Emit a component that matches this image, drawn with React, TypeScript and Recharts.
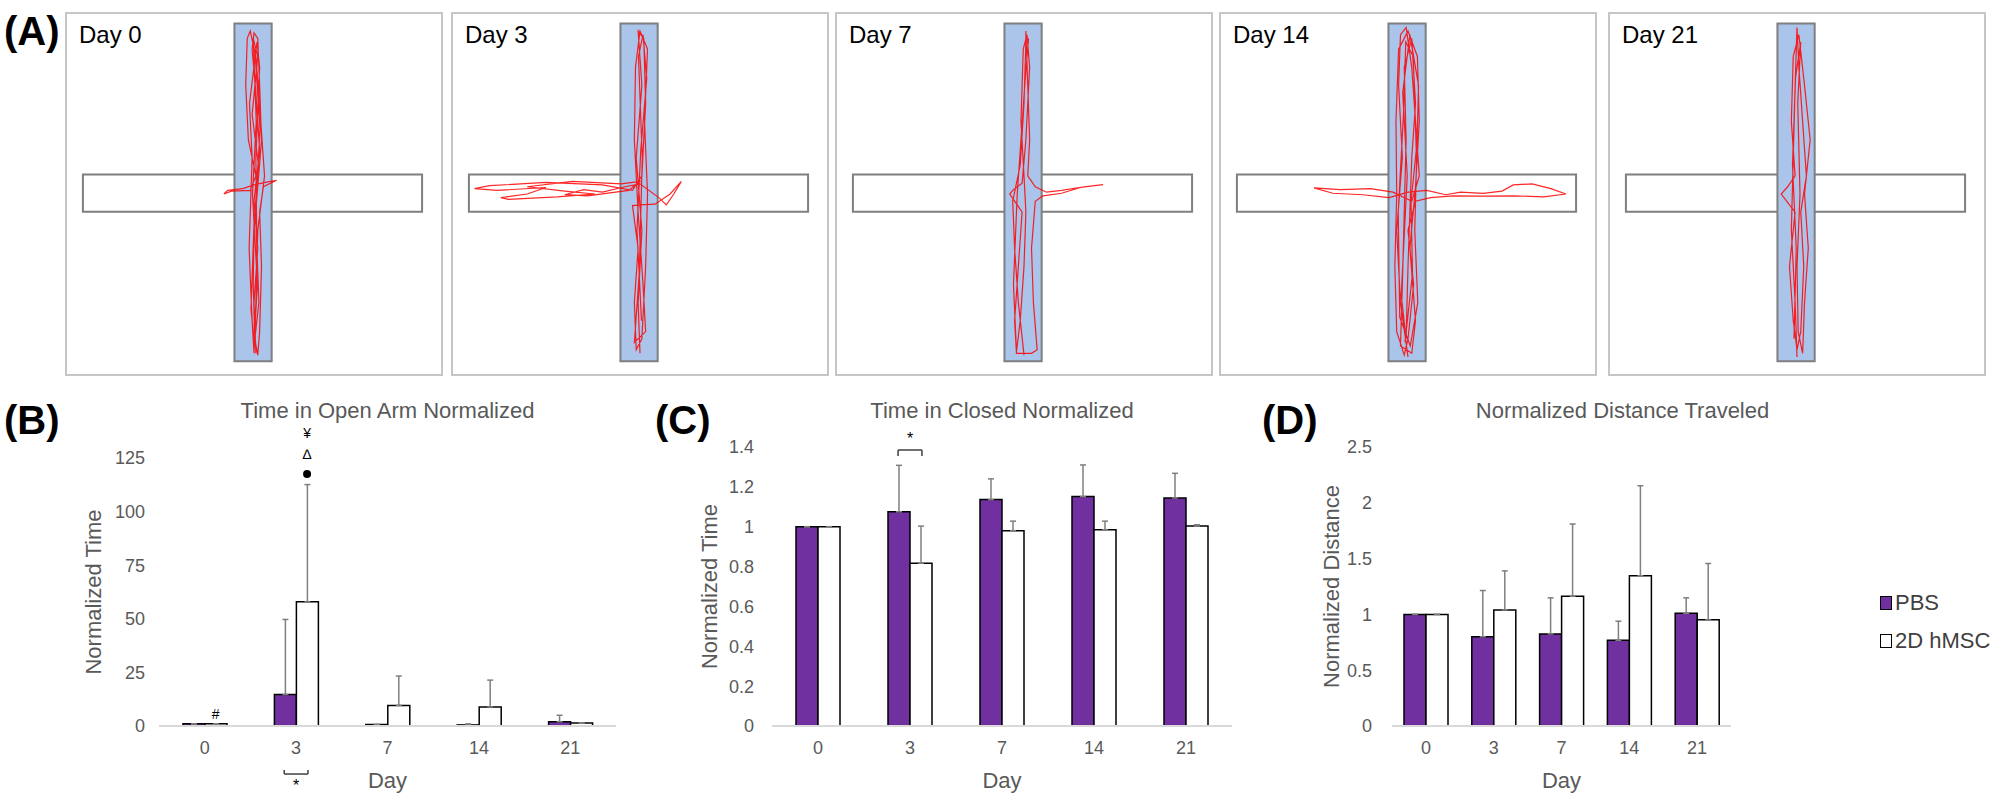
import React from "react";
import {
  ComposedChart,
  Bar,
  ErrorBar,
  XAxis,
  YAxis,
  ReferenceLine,
  ReferenceDot,
  ReferenceArea,
  Legend,
  ScatterChart,
  Scatter,
} from "recharts";

// categories
const days = ["0", "3", "7", "14", "21"];

// (B) time in open arm, normalized
const openPbs = [1, 14.7, 0.7, 0.5, 2.0];
const openPbsErr = [0, 35, 0, 0.5, 3];
const openHmsc = [1, 57.9, 9.6, 8.9, 1.4];
const openHmscErr = [0, 54.7, 13.7, 12.5, 0];
const openTicks = [0, 25, 50, 75, 100, 125];

// (C) time in closed arm, normalized
const closedPbs = [1, 1.075, 1.136, 1.151, 1.144];
const closedPbsErr = [0, 0.233, 0.104, 0.159, 0.124];
const closedHmsc = [1, 0.817, 0.98, 0.985, 1.003];
const closedHmscErr = [0, 0.186, 0.048, 0.043, 0.007];
const closedTicks = [0, 0.2, 0.4, 0.6, 0.8, 1, 1.2, 1.4];

// (D) distance traveled, normalized
const distPbs = [1, 0.8, 0.825, 0.768, 1.01];
const distPbsErr = [0, 0.414, 0.323, 0.171, 0.138];
const distHmsc = [1, 1.04, 1.163, 1.346, 0.951];
const distHmscErr = [0, 0.35, 0.647, 0.807, 0.505];
const distTicks = [0, 0.5, 1, 1.5, 2, 2.5];

const seriesNames = ["PBS", "2D hMSC"];

// (A) tracking traces, x / y in % of the maze box (y = 0 at bottom)
const mazeLabels = ["Day 0", "Day 3", "Day 7", "Day 14", "Day 21"];
const trace0 = [
  [50.5, 6], [50, 20], [51, 35], [50, 48], [51.5, 62], [50.5, 78], [49.5, 90], [50, 94.5],
  [51, 93], [51.5, 80], [52, 65], [51, 52], [50, 40], [49.8, 25], [50.2, 10], [51, 5.5],
  [51.5, 12], [52, 30], [51.5, 45], [52.5, 52], [56, 53.8], [53, 53.2], [50, 52.5],
  [47, 51.5], [43, 51], [42, 50], [44, 50.8], [49, 51], [50.5, 55], [48.5, 65], [47.8, 80],
  [48.2, 93], [49, 95], [50.5, 88], [51.8, 70], [52.8, 55], [51, 40], [50.5, 20], [50, 6],
  [49.5, 15], [48.7, 35], [49.5, 60], [48.8, 75], [50.8, 92], [51.5, 85], [50.5, 60],
  [50.8, 30], [50.2, 8], [49.2, 18], [50, 42], [51.2, 58], [49.5, 72], [51, 88], [49.8, 93],
  [50.6, 70], [49.6, 50], [50.9, 25], [49.9, 7], [51.3, 20], [50.4, 45], [51.6, 68], [50.2, 90],
];
const trace3 = [
  [50, 6], [49.5, 20], [50.5, 40], [49, 60], [50.5, 80], [49.5, 95], [51, 93], [51.5, 75],
  [50.5, 55], [48, 51], [40, 52.5], [25, 53.2], [10, 52.3], [6, 51.5], [12, 51], [25, 51.8],
  [20, 50], [13, 49], [15, 48.5], [28, 49.2], [38, 50], [30, 50.8], [20, 52], [32, 53.5],
  [45, 52.8], [50, 53.5], [47, 51], [36, 49.5], [30, 49.8], [35, 51.2], [40, 50.5], [46, 52],
  [50, 52.8], [55, 49], [57, 47], [59, 50], [61, 53.5], [58, 50], [54, 47.2], [50, 47],
  [48, 46.8], [49.5, 35], [48.5, 20], [49, 7], [50.5, 10], [51.5, 30], [52, 50], [51.2, 70],
  [52, 90], [50, 95], [48.8, 85], [48.5, 65], [49.5, 45], [50.8, 25], [51.5, 12], [48.5, 9],
  [49.8, 28], [50.6, 60], [49.6, 88], [50.8, 94], [51.8, 82], [50.2, 62], [49.2, 40], [50.4, 15],
];
const trace7 = [
  [50, 5.5], [48.5, 20], [47.5, 35], [47, 48], [49, 58], [50, 75], [50.5, 92], [50.5, 95],
  [51, 80], [51.5, 65], [51, 55], [53, 52], [56, 50.5], [60, 51], [66, 52], [71, 52.6],
  [65, 51.8], [60, 50.2], [55, 49.5], [53, 48], [52, 35], [52.5, 20], [53.5, 7], [52, 6],
  [48, 6], [47.5, 15], [48.5, 30], [49.5, 45], [46.2, 50], [47, 51], [49.5, 53], [50.5, 65],
  [51.5, 85], [50.8, 94], [49.8, 90], [49.2, 70], [50, 55], [50.5, 45], [50, 30], [49, 15],
  [48, 6.5], [47.2, 25], [48.2, 50], [50.2, 80], [51.2, 93],
];
const trace14 = [
  [50, 5], [48, 20], [47, 40], [48.5, 60], [47.5, 80], [48, 94], [49.5, 96], [51, 85],
  [52, 70], [53, 55], [51, 48], [46, 50.5], [40, 51.5], [32, 51.2], [25, 51.7], [30, 50.2],
  [38, 49.8], [45, 49], [50, 50.5], [55, 51], [60, 49.8], [64, 50.5], [70, 50.2], [75, 50.8],
  [78, 52.5], [83, 52.8], [88, 51.5], [92, 50], [86, 49.2], [78, 49.5], [70, 49.4], [62, 49.5],
  [56, 49], [52, 48], [50, 40], [51.5, 25], [50, 10], [49, 5.5], [47, 12], [46.5, 30],
  [47, 50], [46.8, 70], [47.5, 90], [50, 95], [52.5, 88], [53, 70], [52, 52], [50.5, 35],
  [52, 15], [51, 6], [48, 8], [48.5, 25], [49, 45], [49.5, 65], [49, 85], [51, 93],
  [52, 75], [51, 60], [50, 30], [49.5, 10], [48.2, 22], [49.8, 55], [48.6, 78], [50.5, 94],
  [52.8, 80], [51.8, 40], [52.6, 20], [50.6, 8], [47.8, 16], [47.4, 45], [48.8, 72], [49.4, 92],
  [51.4, 88], [52.2, 62], [50.8, 48], [51.2, 28], [49.2, 9],
];
const trace21 = [
  [50, 5], [49.5, 20], [48.5, 40], [49, 60], [49.5, 80], [50, 96], [50.5, 85], [51.5, 70],
  [52.5, 55], [51, 45], [51.8, 30], [51, 12], [50, 7], [49, 15], [48, 30], [49.5, 45],
  [45.8, 50], [47.5, 52], [49.5, 55], [48.5, 70], [49, 88], [50.5, 94], [52, 80], [53.5, 65],
  [52, 50], [53, 35], [52, 20], [51.5, 6], [50.3, 12], [50, 30], [50.8, 50], [50.2, 75],
  [51, 92], [49.6, 82], [48.8, 58], [49.8, 35], [49.2, 10],
];
const traces = [trace0, trace3, trace7, trace14, trace21];

// maze geometry (% of box)
const openArm = { x1: 4.5, x2: 94.7, y1: 45.1, y2: 55.4 };
const closedArm = { x1: 44.8, x2: 54.7, y1: 3.8, y2: 97.1 };
const mazeLefts = [66, 452, 836, 1220, 1609];

const PURPLE = "#7030a0";
const GREY_TEXT = "#595959";
const ERR = "#7f7f7f";

const Maze = ({ label, trace }: { label: string; trace: number[][] }) => {
  const pts = trace.map(([x, y]) => ({ x, y }));
  return (
    <ScatterChart width={378} height={364} margin={{ top: 1, right: 1, bottom: 1, left: 1 }}>
      <XAxis type="number" dataKey="x" domain={[0, 100]} hide />
      <YAxis type="number" dataKey="y" domain={[0, 100]} hide />
      <ReferenceArea
        x1={0}
        x2={100}
        y1={0}
        y2={100}
        fill="#fff"
        fillOpacity={1}
        stroke="#c6c6c6"
        strokeWidth={2}
        ifOverflow="visible"
        label={{ value: label, position: "insideTopLeft", offset: 13, fill: "#000", fontSize: 24 }}
      />
      <ReferenceArea {...openArm} fill="#fff" fillOpacity={1} stroke="#7f7f7f" strokeWidth={2} />
      <ReferenceArea {...closedArm} fill="#abc5ea" fillOpacity={1} stroke="#7f7f7f" strokeWidth={2} />
      <Scatter
        data={pts}
        line={{ stroke: "#ff0000", strokeWidth: 1.2, strokeOpacity: 0.85 }}
        shape={() => <g />}
        isAnimationActive={false}
      />
    </ScatterChart>
  );
};

const SeriesLegend = (props: any) => {
  const items = [...(props.payload || [])].sort(
    (a: any, b: any) => seriesNames.indexOf(a.value) - seriesNames.indexOf(b.value)
  );
  return (
    <div>
      {items.map((e: any) => (
        <div
          key={e.value}
          style={{ display: "flex", alignItems: "center", height: 38, fontSize: 22, color: "#404040" }}
        >
          <span
            style={{
              display: "inline-block",
              width: 10,
              height: 12,
              background: e.color,
              border: "1.5px solid #000",
              marginRight: 3,
            }}
          />
          {e.value}
        </div>
      ))}
    </div>
  );
};

type PanelProps = {
  width: number;
  margin: { top: number; right: number; bottom: number; left: number };
  pbs: number[];
  pbsErr: number[];
  hmsc: number[];
  hmscErr: number[];
  ticks: number[];
  yLabel: string;
  yLabelDx: number;
  tickGap: number;
  legend?: boolean;
  children?: React.ReactNode;
};

const BarPanel = (p: PanelProps) => {
  const rows = days.map((d, i) => ({
    idx: i,
    pbs: p.pbs[i],
    pbsErr: [0, p.pbsErr[i]],
    hmsc: p.hmsc[i],
    hmscErr: [0, p.hmscErr[i]],
  }));
  const top = p.ticks[p.ticks.length - 1];
  return (
    <ComposedChart width={p.width} height={398} data={rows} margin={p.margin} barGap={0} barSize={22}>
      <XAxis
        dataKey="idx"
        type="number"
        domain={[-0.5, 4.5]}
        ticks={[0, 1, 2, 3, 4]}
        tickFormatter={(v: number) => days[v]}
        axisLine={{ stroke: "#d9d9d9", strokeWidth: 2 }}
        tickLine={false}
        tick={{ fill: GREY_TEXT, fontSize: 18 }}
        tickMargin={9}
        height={62}
        label={{ value: "Day", position: "insideBottom", offset: 0, fill: GREY_TEXT, fontSize: 22 }}
      />
      <YAxis
        domain={[0, top]}
        ticks={p.ticks}
        interval={0}
        axisLine={false}
        tickLine={false}
        width={60}
        tickMargin={p.tickGap}
        tick={{ fill: GREY_TEXT, fontSize: 18 }}
        label={{ value: p.yLabel, angle: -90, position: "center", dx: p.yLabelDx, fill: GREY_TEXT, fontSize: 22 }}
      />
      <Bar dataKey="pbs" name={seriesNames[0]} fill={PURPLE} stroke="#000" strokeWidth={1.5} isAnimationActive={false}>
        <ErrorBar dataKey="pbsErr" width={3} stroke={ERR} strokeWidth={1.5} direction="y" />
      </Bar>
      <Bar dataKey="hmsc" name={seriesNames[1]} fill="#ffffff" stroke="#000" strokeWidth={1.5} isAnimationActive={false}>
        <ErrorBar dataKey="hmscErr" width={3} stroke={ERR} strokeWidth={1.5} direction="y" />
      </Bar>
      {p.legend && (
        <Legend
          layout="horizontal"
          verticalAlign="middle"
          align="right"
          wrapperStyle={{ position: "absolute", left: 615, top: 184, width: 122 }}
          content={<SeriesLegend />}
        />
      )}
      {p.children}
    </ComposedChart>
  );
};

const bracket = (x1: number, x2: number, yBar: number, yLeg: number) => [
  <ReferenceLine key="b0" segment={[{ x: x1, y: yBar }, { x: x2, y: yBar }]} stroke="#404040" strokeWidth={1.5} ifOverflow="visible" />,
  <ReferenceLine key="b1" segment={[{ x: x1, y: yBar }, { x: x1, y: yLeg }]} stroke="#404040" strokeWidth={1.5} ifOverflow="visible" />,
  <ReferenceLine key="b2" segment={[{ x: x2, y: yBar }, { x: x2, y: yLeg }]} stroke="#404040" strokeWidth={1.5} ifOverflow="visible" />,
];

const mark = (key: string, x: number, y: number, text: string, size: number) => (
  <ReferenceDot
    key={key}
    x={x}
    y={y}
    r={0}
    fill="none"
    stroke="none"
    ifOverflow="visible"
    label={{ value: text, position: "center", fill: "#000", fontSize: size }}
  />
);

const tagStyle: React.CSSProperties = {
  position: "absolute",
  fontSize: 40,
  fontWeight: "bold",
  lineHeight: 1,
  fontFamily: '"Liberation Sans Narrow", "Liberation Sans", Arial, sans-serif',
  color: "#000",
};

const titleStyle: React.CSSProperties = {
  position: "absolute",
  top: 400,
  fontSize: 22,
  lineHeight: 1,
  color: GREY_TEXT,
  textAlign: "center",
};

export default function App() {
  return (
    <div
      style={{
        position: "absolute",
        left: 0,
        top: 0,
        width: 2002,
        height: 798,
        background: "#fff",
        overflow: "hidden",
        fontFamily: '"Liberation Sans", Arial, sans-serif',
      }}
    >
      {mazeLabels.map((lab, i) => (
        <div key={lab} style={{ position: "absolute", left: mazeLefts[i] - 1, top: 12 }}>
          <Maze label={lab} trace={traces[i]} />
        </div>
      ))}

      <div style={{ ...tagStyle, left: 4, top: 11 }}>(A)</div>
      <div style={{ ...tagStyle, left: 4, top: 400 }}>(B)</div>
      <div style={{ ...tagStyle, left: 655, top: 400 }}>(C)</div>
      <div style={{ ...tagStyle, left: 1262, top: 400 }}>(D)</div>

      <div style={{ ...titleStyle, left: 159, width: 457 }}>Time in Open Arm Normalized</div>
      <div style={{ ...titleStyle, left: 772, width: 460 }}>Time in Closed Normalized</div>
      <div style={{ ...titleStyle, left: 1392, width: 461 }}>Normalized Distance Traveled</div>

      <div style={{ position: "absolute", left: 0, top: 400 }}>
        <BarPanel
          width={640}
          margin={{ top: 58, right: 24, bottom: 10, left: 99 }}
          pbs={openPbs}
          pbsErr={openPbsErr}
          hmsc={openHmsc}
          hmscErr={openHmscErr}
          ticks={openTicks}
          yLabel="Normalized Time"
          yLabelDx={-36}
          tickGap={8}
        >
          {mark("hash", 0.12, 5.6, "#", 14)}
          {mark("yen", 1.12, 136.5, "¥", 14)}
          {mark("delta", 1.12, 127, "∆", 14)}
          <ReferenceDot x={1.12} y={117.5} r={4} fill="#000" stroke="none" ifOverflow="visible" />
          {bracket(0.87, 1.13, -22.4, -20.5)}
          {mark("star", 1, -27.5, "*", 16)}
        </BarPanel>
      </div>

      <div style={{ position: "absolute", left: 640, top: 400 }}>
        <BarPanel
          width={615}
          margin={{ top: 47, right: 23, bottom: 10, left: 72 }}
          pbs={closedPbs}
          pbsErr={closedPbsErr}
          hmsc={closedHmsc}
          hmscErr={closedHmscErr}
          ticks={closedTicks}
          yLabel="Normalized Time"
          yLabelDx={-33}
          tickGap={12}
        >
          {bracket(0.87, 1.13, 1.385, 1.355)}
          {mark("star", 1, 1.445, "*", 16)}
        </BarPanel>
      </div>

      <div style={{ position: "absolute", left: 1265, top: 400 }}>
        <BarPanel
          width={737}
          margin={{ top: 47, right: 149, bottom: 10, left: 67 }}
          pbs={distPbs}
          pbsErr={distPbsErr}
          hmsc={distHmsc}
          hmscErr={distHmscErr}
          ticks={distTicks}
          yLabel="Normalized Distance"
          yLabelDx={-31}
          tickGap={14}
          legend
        />
      </div>
    </div>
  );
}
